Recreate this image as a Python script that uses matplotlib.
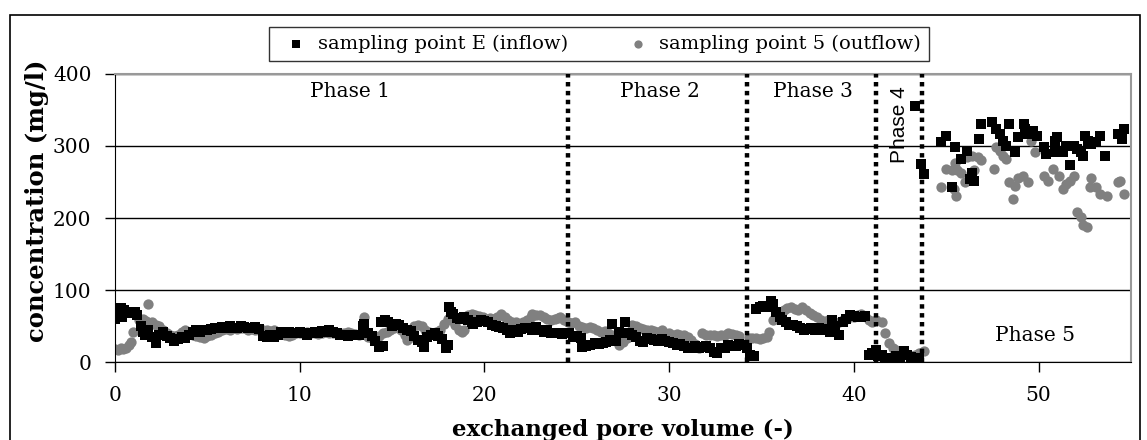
import matplotlib.pyplot as plt
from matplotlib.patches import Rectangle

# =========================
# DATA
# =========================
inflow_x = [
    0.0, 0.1, 0.2, 0.3, 0.4, 0.5, 0.7, 0.9, 1.1, 1.2, 1.4, 1.5, 1.6, 1.8, 2.0, 2.2, 2.4, 2.6, 2.8, 3.0,
    3.2, 3.4, 3.6, 3.8, 4.0, 4.2, 4.4, 4.6, 4.8, 5.0, 5.2, 5.4, 5.6, 5.8, 6.0, 6.2, 6.4, 6.6, 6.8, 7.0,
    7.2, 7.4, 7.6, 7.8, 8.0, 8.2, 8.4, 8.6, 8.8, 9.0, 9.2, 9.4, 9.6, 9.8, 10.0, 10.2, 10.4, 10.6, 10.8, 11.0,
    11.2, 11.4, 11.6, 11.8, 12.0, 12.2, 12.4, 12.6, 12.8, 13.0, 13.2, 13.4, 13.5, 13.7, 13.9, 14.1, 14.3, 14.5, 14.4, 14.6,
    14.8, 15.0, 15.2, 15.4, 15.6, 15.8, 16.0, 16.2, 16.4, 16.6, 16.7, 16.9, 17.1, 17.3, 17.5, 17.7, 17.9, 18.0, 18.1, 18.2,
    18.3, 18.5, 18.7, 18.9, 19.1, 19.3, 19.4, 19.6, 19.8, 20.0, 20.2, 20.4, 20.6, 20.8, 21.0, 21.2, 21.4, 21.6, 21.8, 22.0,
    22.2, 22.4, 22.6, 22.8, 23.0, 23.2, 23.4, 23.6, 23.8, 24.0, 24.2, 24.4, 24.6, 24.8, 25.0, 25.2, 25.3, 25.5, 25.7, 26.0,
    26.2, 26.4, 26.6, 26.8, 26.9, 27.1, 27.3, 27.5, 27.6, 27.8, 28.0, 28.2, 28.4, 28.6, 28.8, 29.0, 29.2, 29.4, 29.6, 29.8,
    30.0, 30.2, 30.4, 30.6, 30.8, 31.0, 31.2, 31.4, 31.6, 31.8, 32.0, 32.2, 32.4, 32.6, 32.8, 33.0, 33.2, 33.4, 33.6, 33.8,
    34.0, 34.2, 34.4, 34.6, 34.7, 34.9, 35.1, 35.3, 35.5, 35.6, 35.8, 36.0, 36.1, 36.3, 36.5, 36.7, 36.9, 37.1, 37.3, 37.5,
    37.7, 37.9, 38.1, 38.3, 38.5, 38.7, 38.8, 39.0, 39.2, 39.4, 39.6, 39.8, 40.0, 40.2, 40.4, 40.6, 40.8, 41.0, 41.2, 41.3,
    41.5, 41.7, 41.9, 42.1, 42.3, 42.5, 42.7, 42.9, 43.1, 43.3, 43.5, 43.65, 43.8,
    44.7, 45.0, 45.3, 45.5, 45.8, 46.1, 46.3, 46.4, 46.5, 46.8, 46.9, 47.5, 47.7, 47.9, 48.1, 48.25, 48.4, 48.7, 48.9, 49.2,
    49.25, 49.4, 49.7, 49.9, 50.3, 50.4, 50.9, 51.0, 50.9, 51.3, 51.5, 51.7, 51.9, 52.1, 52.3, 52.4, 52.5, 52.7, 52.85, 53.1,
    53.3, 53.6, 54.3, 54.5, 54.6,
]
inflow_y = [
    60, 62, 73, 75, 62, 72, 70, 68, 70, 66, 50, 42, 38, 45, 35, 26, 38, 42, 36, 33,
    30, 32, 35, 34, 38, 42, 44, 42, 45, 44, 46, 48, 47, 49, 48, 50, 47, 48, 50, 49,
    48, 47, 49, 46, 36, 35, 37, 35, 38, 42, 40, 42, 41, 40, 42, 40, 38, 40, 42, 41,
    43, 42, 44, 42, 40, 38, 37, 36, 38, 37, 38, 50, 53, 40, 36, 30, 21, 22, 56, 58,
    55, 50, 53, 52, 48, 44, 43, 36, 31, 28, 21, 35, 38, 40, 36, 32, 20, 24, 76, 70,
    67, 61, 60, 62, 58, 55, 53, 56, 58, 57, 55, 52, 50, 49, 47, 45, 40, 44, 42, 46,
    48, 47, 45, 49, 44, 42, 45, 41, 40, 40, 39, 41, 40, 35, 36, 34, 21, 22, 24, 26,
    25, 27, 28, 31, 53, 30, 42, 40, 56, 40, 38, 35, 30, 28, 33, 32, 31, 30, 32, 30,
    28, 26, 24, 25, 22, 20, 19, 22, 20, 21, 22, 20, 14, 12, 19, 20, 24, 23, 22, 25,
    24, 19, 10, 9, 74, 76, 78, 77, 85, 80, 70, 62, 58, 55, 51, 52, 50, 48, 44, 46,
    47, 45, 47, 44, 46, 42, 58, 50, 38, 55, 60, 65, 64, 62, 63, 64, 10, 12, 17, 8,
    10, 6, 5, 6, 8, 5, 15, 10, 7, 356, 6, 275, 261,
    305, 314, 243, 298, 282, 293, 254, 263, 252, 310, 330, 333, 323, 316, 307, 300, 330, 291, 312, 330,
    323, 316, 321, 314, 298, 289, 307, 312, 291, 291, 300, 273, 300, 296, 291, 286, 314, 307, 303, 305,
    314, 286, 316, 310, 323,
]

outflow_x = [
    0.0, 0.15, 0.3, 0.45, 0.6, 0.75, 0.85, 0.95, 0.4, 1.3, 1.5, 1.7, 1.8, 2.0, 2.2, 2.4, 2.6, 2.8, 3.0, 3.2,
    3.4, 3.6, 3.8, 4.0, 4.2, 4.4, 4.6, 4.8, 5.0, 5.2, 5.4, 5.6, 5.8, 6.0, 6.2, 6.4, 6.6, 6.8, 7.0, 7.2,
    7.4, 7.6, 7.8, 8.0, 8.2, 8.4, 8.6, 8.8, 9.0, 9.2, 9.4, 9.6, 9.8, 10.0, 10.2, 10.4, 10.6, 10.8, 11.0, 11.2,
    11.4, 11.6, 11.8, 12.0, 12.2, 12.4, 12.6, 12.8, 13.0, 13.2, 13.5, 13.7, 13.9, 14.1, 14.3, 14.5, 14.7, 14.9, 15.1, 15.3,
    15.5, 15.7, 15.8, 16.0, 16.2, 16.4, 16.6, 16.8, 17.0, 17.2, 17.4, 17.6, 17.8, 18.0, 18.2, 18.4, 18.6, 18.8, 18.9, 19.1,
    19.3, 19.5, 19.7, 19.9, 20.1, 20.3, 20.5, 20.7, 20.9, 21.1, 21.3, 21.5, 21.7, 21.9, 22.1, 22.3, 22.5, 22.6, 22.8, 23.0,
    23.2, 23.4, 23.6, 23.8, 24.0, 24.1, 24.3, 24.5, 24.7, 24.9, 25.1, 25.3, 25.5, 25.7, 25.9, 26.1, 26.3, 26.5, 26.7, 26.9,
    27.0, 27.2, 27.3, 27.5, 27.7, 27.9, 28.0, 28.2, 28.4, 28.6, 28.8, 29.0, 29.2, 29.4, 29.6, 29.8, 30.0, 30.2, 30.4, 30.6,
    30.8, 31.0, 31.2, 31.4, 31.6, 31.8, 32.0, 32.2, 32.4, 32.6, 32.8, 33.0, 33.2, 33.4, 33.6, 33.8, 34.3, 34.5, 34.7, 34.9,
    35.1, 35.3, 35.4, 35.6, 35.8, 36.0, 36.2, 36.4, 36.6, 36.8, 37.0, 37.2, 37.4, 37.6, 37.8, 38.0, 38.2, 38.4, 38.6, 38.8,
    39.0, 39.2, 39.4, 39.6, 39.8, 40.0, 40.2, 40.4, 40.6, 40.8, 41.0, 41.2, 41.5, 41.7, 41.9, 42.1, 42.3, 42.5, 42.7, 42.9,
    43.1, 43.3, 43.5, 43.8,
    44.7, 45.0, 45.3, 45.4, 45.55, 45.5, 45.6, 45.8, 46.0, 46.1, 46.4, 46.5, 46.7, 46.9, 47.6, 47.7, 47.9, 48.1, 48.25, 48.4,
    48.6, 48.7, 48.9, 49.15, 49.4, 49.6, 49.8, 50.3, 50.5, 50.8, 51.1, 51.3, 51.5, 51.7, 51.9, 52.1, 52.3, 52.4, 52.6, 52.85,
    52.8, 53.1, 53.3, 53.7, 54.3, 54.4, 54.6,
]
outflow_y = [
    18, 17, 19, 18, 20, 24, 28, 42, 73, 58, 60, 57, 81, 55, 52, 50, 45, 40, 38, 36,
    38, 42, 45, 42, 38, 36, 35, 34, 36, 38, 40, 42, 44, 46, 45, 47, 46, 48, 47, 45,
    46, 44, 45, 44, 45, 43, 44, 42, 40, 38, 36, 38, 40, 41, 40, 42, 40, 41, 39, 41,
    42, 40, 41, 40, 41, 40, 42, 41, 39, 38, 62, 35, 33, 34, 36, 40, 42, 45, 48, 49,
    45, 38, 31, 35, 50, 51, 50, 44, 42, 40, 42, 45, 53, 60, 58, 52, 44, 42, 45, 65,
    67, 65, 64, 62, 60, 61, 60, 63, 67, 62, 58, 56, 55, 51, 55, 58, 62, 67, 65, 66,
    62, 60, 58, 60, 61, 63, 58, 55, 54, 56, 50, 49, 48, 49, 47, 44, 42, 43, 40, 38,
    36, 30, 24, 28, 33, 38, 51, 50, 48, 46, 44, 45, 43, 42, 44, 41, 40, 38, 39, 37,
    38, 35, 31, 25, 19, 40, 38, 37, 38, 36, 37, 38, 40, 39, 38, 36, 33, 34, 33, 32,
    34, 35, 42, 58, 66, 70, 72, 75, 76, 74, 73, 76, 72, 68, 65, 62, 58, 56, 58, 47,
    52, 56, 58, 60, 62, 63, 66, 67, 64, 58, 56, 58, 55, 40, 26, 20, 17, 14, 11, 10,
    9, 10, 12, 15,
    243, 268, 266, 240, 231, 277, 266, 263, 250, 284, 286, 266, 284, 280, 268, 298, 293, 286, 282, 250,
    227, 245, 256, 259, 250, 307, 291, 259, 252, 268, 259, 240, 247, 252, 259, 208, 201, 190, 187, 256,
    243, 243, 233, 231, 250, 252, 233,
]

phase_bounds = [24.5, 34.2, 41.2, 43.7]
phase_names = ['Phase 1', 'Phase 2', 'Phase 3', 'Phase 5']
phase_x = [12.7, 29.5, 37.8, 49.8]
phase_y = [376, 376, 376, 37]

# =========================
# FIGURE
# =========================
plt.rcParams['font.family'] = ['DejaVu Serif']

fig = plt.figure(figsize=(11.47, 4.40), dpi=100)
ax = fig.add_axes([0.1003, 0.177, 0.8857, 0.655])

# outer frame
fig.patches.append(Rectangle((10 / 1147, -0.02), 1130 / 1147, 1 - 15 / 440 + 0.02,
                             transform=fig.transFigure, fill=False,
                             edgecolor='black', linewidth=1.2))

ax.scatter(inflow_x, inflow_y, marker='s', s=42, color='black', linewidths=0,
           label='sampling point E (inflow)', zorder=3)
ax.scatter(outflow_x, outflow_y, marker='o', s=55, color='#808080', linewidths=0,
           label='sampling point 5 (outflow)', zorder=2)

for b in phase_bounds:
    ax.axvline(b, color='black', linewidth=3.2, linestyle=(0, (1, 1)), zorder=4)

for name, px, py in zip(phase_names, phase_x, phase_y):
    ax.text(px, py, name, ha='center', va='center', fontsize=14.5)
ax.text(42.45, 330, 'Phase 4', rotation=90, ha='center', va='center',
        fontsize=15, family='Liberation Sans')

ax.set_xlim(0, 55)
ax.set_ylim(0, 400)
ax.set_xticks([0, 10, 20, 30, 40, 50])
ax.set_yticks([0, 100, 200, 300, 400])
ax.tick_params(axis='both', direction='out', length=7, width=1, labelsize=14.5)
ax.tick_params(axis='x', pad=10)
ax.tick_params(axis='y', pad=10)
ax.grid(axis='y', color='black', linewidth=1)
ax.set_axisbelow(True)

ax.spines['top'].set_color('#999999')
ax.spines['right'].set_color('#999999')
ax.spines['top'].set_linewidth(1.5)
ax.spines['right'].set_linewidth(1.5)

ax.set_xlabel('exchanged pore volume (-)', fontsize=16.5, fontweight='bold', va='center')
ax.xaxis.set_label_coords(0.5, -0.237)
ax.set_ylabel('concentration (mg/l)', fontsize=17.5, fontweight='bold', va='center')
ax.yaxis.set_label_coords(-0.077, 0.56)

leg = fig.legend(loc='center', bbox_to_anchor=(0.522, 0.9), ncol=2, fontsize=14,
                 frameon=True, fancybox=False, edgecolor='black', handletextpad=0.1,
                 columnspacing=2.6, markerscale=0.8, borderpad=0.4)
leg.get_frame().set_linewidth(1)

plt.savefig('out.png', dpi=100)
